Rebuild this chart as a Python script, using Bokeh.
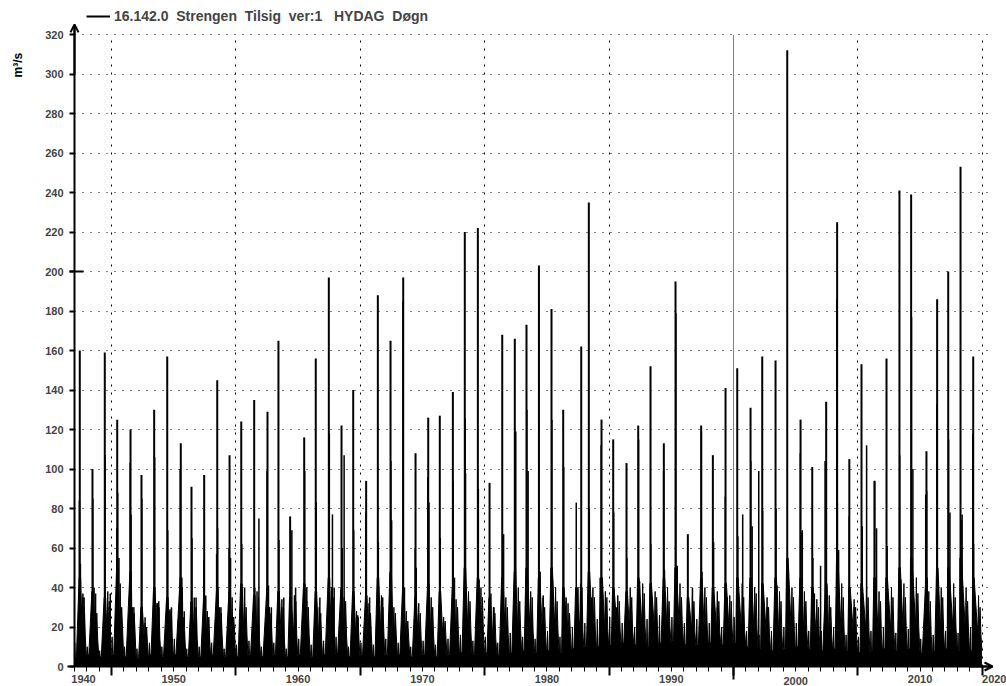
import math
from bokeh.plotting import figure
from bokeh.models import (Range1d, LinearAxis, FixedTicker, Grid, Arrow, OpenHead,
                          Label, Legend, LegendItem, ColumnDataSource)
from bokeh.embed import file_html
from bokeh.resources import INLINE

# ---------------- data ----------------
years = list(range(1942, 2015))

# date (decimal year) and value of the largest spike of each year, m3/s
peak_t = [1942.45, 1943.47, 1944.46, 1945.46, 1946.53, 1947.41, 1948.43, 1949.48, 1950.57, 1951.43,
          1952.45, 1953.50, 1954.49, 1955.43, 1956.47, 1957.54, 1958.42, 1959.36, 1960.49, 1961.42,
          1962.47, 1963.49, 1964.43, 1965.47, 1966.41, 1967.43, 1968.45, 1969.44, 1970.46, 1971.39,
          1972.44, 1973.40, 1974.45, 1975.39, 1976.41, 1977.42, 1978.36, 1979.36, 1980.37, 1981.31,
          1982.76, 1983.37, 1984.39, 1985.33, 1986.40, 1987.34, 1988.33, 1989.40, 1990.34, 1991.33,
          1992.40, 1993.34, 1994.36, 1995.30, 1996.37, 1997.31, 1998.38, 1999.32, 2000.39, 2001.33,
          2002.45, 2003.33, 2004.31, 2005.29, 2006.33, 2007.30, 2008.34, 2009.28, 2010.51, 2011.37,
          2012.26, 2013.25, 2014.27]
peak_q = [160, 100, 159, 125, 120, 97, 130, 157, 113, 91,
          97, 145, 107, 124, 135, 129, 165, 76, 116, 156,
          197, 122, 140, 94, 188, 165, 197, 108, 126, 127,
          139, 220, 222, 93, 168, 166, 173, 203, 181, 130,
          162, 235, 125, 115, 103, 122, 152, 113, 195, 67,
          122, 107, 141, 151, 131, 157, 155, 312, 125, 101,
          134, 225, 105, 153, 94, 156, 241, 239, 109, 186,
          200, 253, 157]

# other visible spikes
extra_t = [1942.42, 1942.50, 1942.70, 1942.80,
           1943.50, 1943.60, 1943.72,
           1944.49, 1944.70, 1944.90,
           1945.43, 1945.50, 1945.60,
           1946.50, 1946.57, 1946.80,
           1947.44, 1947.70,
           1948.47, 1948.65, 1948.80,
           1949.52, 1949.70, 1949.82,
           1950.52, 1950.65, 1950.85,
           1951.47, 1951.65, 1951.80,
           1952.42, 1952.58, 1952.80,
           1953.45, 1953.53, 1953.80,
           1954.45, 1954.57, 1954.80,
           1955.47, 1955.70,
           1956.52, 1956.85,
           1957.50, 1957.62, 1957.85,
           1958.46, 1958.70, 1958.85,
           1959.50, 1959.80,
           1960.53, 1960.70,
           1961.46, 1961.75,
           1962.51, 1962.76, 1962.90,
           1963.55, 1963.70,
           1964.47, 1964.80,
           1965.44, 1965.75,
           1966.45, 1966.80,
           1967.46, 1967.52,
           1968.43, 1968.55,
           1969.41, 1969.50,
           1970.43, 1970.52,
           1971.43, 1971.70,
           1972.47, 1972.57,
           1973.43, 1973.46,
           1974.49, 1974.55,
           1975.50, 1975.75,
           1976.44, 1976.52,
           1977.45, 1977.50,
           1978.39, 1978.49,
           1979.46, 1979.70,
           1980.40, 1980.45,
           1981.35, 1981.55,
           1982.36, 1982.50,
           1983.41, 1983.60,
           1984.28, 1984.36,
           1985.37, 1985.60,
           1986.43, 1986.70,
           1987.37, 1987.45,
           1988.35, 1988.45,
           1989.38, 1989.45,
           1990.37, 1990.48,
           1991.45, 1991.70,
           1992.42, 1992.47,
           1993.40, 1993.70,
           1994.34, 1994.50,
           1995.35, 1995.74,
           1996.39, 1996.50, 1997.03,
           1997.34, 1997.70,
           1998.42, 1998.50,
           1999.38, 1999.50,
           2000.37, 2000.42, 2000.53,
           2001.38, 2001.50,
           2002.00, 2002.36,
           2003.30, 2003.35, 2003.45,
           2004.30, 2004.70,
           2005.35, 2005.70,
           2006.35, 2006.50,
           2007.35, 2007.45,
           2008.36, 2008.45,
           2009.31, 2009.42,
           2010.45, 2010.53,
           2011.35, 2011.45,
           2012.29, 2012.40,
           2013.30, 2013.38,
           2014.23, 2014.30, 2014.40]
extra_q = [84, 52, 37, 35,
           85, 40, 37,
           107, 30, 37,
           70, 88, 55,
           103, 77, 30,
           85, 25,
           106, 32, 33,
           69, 29, 30,
           100, 45, 28,
           65, 35, 35,
           54, 36, 25,
           57, 70, 30,
           60, 55, 25,
           62, 40,
           40, 75,
           99, 41, 30,
           64, 30, 35,
           69, 40,
           99, 40,
           83, 35,
           118, 77, 40,
           60, 107,
           69, 26,
           78, 35,
           63, 35,
           104, 74,
           185, 40,
           60, 50,
           96, 83,
           65, 22,
           94, 45,
           126, 98,
           90, 44,
           37, 30,
           53, 67,
           82, 119,
           130, 99,
           48, 35,
           125, 44,
           101, 35,
           83, 40,
           80, 35,
           45, 112,
           78, 30,
           55, 30,
           115, 43,
           62, 35,
           99, 49,
           179, 51,
           28, 40,
           119, 48,
           63, 30,
           86, 35,
           66, 77,
           104, 71, 99,
           79, 30,
           80, 41,
           50, 26,
           108, 68, 69,
           55, 37,
           51, 104,
           186, 83, 59,
           76, 30,
           71, 112,
           94, 70,
           61, 33,
           107, 44,
           177, 100,
           87, 89,
           133, 41,
           115, 78,
           74, 77,
           118, 62, 30]

# dense daily flow mass per year (m3/s): winter low, January thaw, spring-flood base,
# late summer, August-September flush, autumn
winter_q = [5, 6, 5, 6, 5, 4, 6, 5, 6, 5,
            5, 6, 5, 5, 6, 5, 6, 5, 6, 5,
            6, 7, 5, 6, 5, 6, 6, 5, 6, 5,
            6, 7, 6, 7, 6, 7, 8, 7, 8, 7,
            9, 10, 10, 11, 12, 11, 10, 12, 13, 11,
            11, 12, 11, 12, 10, 9, 8, 9, 10, 9,
            8, 9, 8, 7, 8, 9, 8, 9, 7, 8,
            9, 8, 8]
early_q = [12, 10, 8, 15, 10, 9, 12, 10, 14, 9,
           10, 12, 9, 11, 13, 10, 12, 9, 14, 11,
           13, 15, 10, 12, 11, 14, 12, 10, 13, 11,
           14, 16, 13, 15, 12, 17, 15, 14, 18, 15,
           20, 22, 24, 25, 22, 20, 24, 26, 25, 22,
           24, 22, 20, 25, 18, 16, 18, 20, 22, 18,
           18, 20, 16, 15, 18, 20, 17, 19, 14, 16,
           18, 17, 20]
flood_q = [45, 38, 35, 50, 48, 30, 40, 35, 45, 33,
           35, 40, 38, 42, 36, 40, 38, 35, 42, 38,
           45, 40, 38, 36, 45, 48, 40, 35, 42, 38,
           40, 50, 45, 35, 45, 48, 50, 45, 50, 40,
           40, 48, 45, 40, 38, 45, 42, 45, 50, 35,
           45, 40, 42, 45, 45, 42, 45, 55, 45, 40,
           42, 55, 40, 42, 45, 45, 50, 55, 45, 50,
           50, 55, 45]
summer_q = [16, 14, 16, 19, 18, 12, 14, 14, 16, 14,
            14, 16, 18, 16, 14, 16, 14, 16, 16, 14,
            18, 16, 14, 16, 18, 16, 14, 14, 16, 14,
            16, 18, 18, 14, 16, 18, 18, 16, 18, 16,
            18, 19, 19, 18, 18, 20, 19, 20, 20, 18,
            19, 18, 19, 18, 19, 16, 16, 18, 18, 16,
            16, 18, 16, 18, 16, 18, 18, 20, 16, 18,
            19, 18, 16]
late_q = [35, 30, 38, 42, 30, 22, 32, 28, 40, 30,
          28, 30, 35, 32, 38, 30, 34, 36, 33, 30,
          40, 35, 28, 32, 36, 30, 28, 32, 35, 25,
          34, 38, 40, 30, 35, 40, 38, 36, 40, 32,
          42, 40, 38, 36, 40, 42, 38, 40, 42, 36,
          40, 38, 36, 42, 40, 35, 38, 40, 38, 34,
          36, 42, 34, 40, 38, 40, 42, 45, 38, 40,
          42, 40, 36]
autumn_q = [30, 27, 33, 30, 27, 20, 30, 27, 25, 30,
            25, 27, 25, 30, 35, 27, 30, 33, 30, 27,
            35, 33, 25, 27, 30, 27, 23, 27, 30, 23,
            30, 33, 35, 27, 30, 33, 35, 30, 33, 27,
            40, 35, 35, 33, 35, 37, 35, 33, 35, 33,
            35, 33, 33, 35, 37, 30, 33, 35, 33, 30,
            30, 35, 30, 35, 33, 35, 35, 37, 33, 35,
            35, 33, 30]
spring_flood_t = {1982: 1982.36}   # year whose largest spike was an autumn flood

y_ticks = list(range(0, 321, 20))
grid_years = [1945, 1955, 1965, 1975, 1985, 2005, 2015]
marked_year = 1995
label_pos = [1942.75, 1950, 1960, 1970, 1980, 1990, 2010, 2016.02]
label_txt = ["1940", "1950", "1960", "1970", "1980", "1990", "2010", "2020"]
legend_text = "16.142.0  Strengen  Tilsig  ver:1   HYDAG  Døgn"
unit_text = "m³/s"

# ---------------- base series from the readings ----------------
bt, bq = [], []
for i, y in enumerate(years):
    ft = spring_flood_t.get(y, peak_t[i])
    pts = [(y + 0.01, winter_q[i]), (y + 0.05, early_q[i]), (y + 0.09, winter_q[i]),
           (y + 0.18, winter_q[i]),
           (ft - 0.05, flood_q[i]), (ft + 0.07, flood_q[i]),
           (y + 0.64, summer_q[i]), (y + 0.70, late_q[i]), (y + 0.74, summer_q[i]),
           (y + 0.82, autumn_q[i]), (y + 0.89, summer_q[i]), (y + 0.97, winter_q[i])]
    pts.sort()
    for t, q in pts:
        bt.append(t)
        bq.append(q)

# ---------------- figure: the frame covers the whole canvas ----------------
PX_PER_YEAR = 12.44
PX_PER_UNIT = 1.975
W, H = 1006, 686
XR0 = 1945 - 111 / PX_PER_YEAR            # canvas left edge
XR1 = XR0 + W / PX_PER_YEAR               # canvas right edge
YR0 = -(H - 666) / PX_PER_UNIT            # canvas bottom edge
YR1 = YR0 + H / PX_PER_UNIT               # canvas top edge
AX_X = 1942.026                           # where the y axis stands
FONT = "Liberation Sans"

p = figure(width=W, height=H, x_range=Range1d(XR0, XR1), y_range=Range1d(YR0, YR1),
           output_backend="svg", toolbar_location=None, x_axis_location=None,
           y_axis_location=None, title=None,
           min_border_left=0, min_border_right=0, min_border_top=0, min_border_bottom=0)
p.outline_line_color = None
p.background_fill_color = "white"
p.border_fill_color = "white"
for g0 in list(p.xgrid) + list(p.ygrid):
    g0.visible = False

# grids
yg = Grid(dimension=1, ticker=FixedTicker(ticks=y_ticks[1:]), grid_line_color="black",
          grid_line_dash="1 7", grid_line_width=1)
xg = Grid(dimension=0, ticker=FixedTicker(ticks=grid_years), grid_line_color="black",
          grid_line_dash="2 6", grid_line_width=1)
xg2 = Grid(dimension=0, ticker=FixedTicker(ticks=[marked_year]), grid_line_color="black",
           grid_line_dash="1 1", grid_line_width=1)
for g, cb in ((yg, (AX_X, 2015.4)), (xg, (0, 320)), (xg2, (0, 320))):
    try:
        g.cross_bounds = cb
    except Exception:
        pass
    p.add_layout(g)

# y axis
yax = LinearAxis(fixed_location=AX_X, ticker=FixedTicker(ticks=y_ticks),
                 major_tick_out=5, major_tick_in=0, major_tick_line_width=2,
                 minor_tick_line_color=None, axis_line_width=2, bounds=(0, 324),
                 major_label_text_font=FONT, major_label_text_font_style="bold",
                 major_label_text_font_size="11px", major_label_standoff=6)
p.add_layout(yax, "left")
ax200 = LinearAxis(fixed_location=AX_X, ticker=FixedTicker(ticks=[200]),
                   major_tick_in=9, major_tick_out=5, major_tick_line_width=2,
                   axis_line_color=None, minor_tick_line_color=None,
                   major_label_text_color=None)
p.add_layout(ax200, "left")

# x axes at y = 0
axB = LinearAxis(fixed_location=0,
                 ticker=FixedTicker(ticks=grid_years + [marked_year], minor_ticks=list(range(1942, 2016))),
                 major_tick_out=9, major_tick_in=0, minor_tick_out=5, minor_tick_in=0,
                 major_tick_line_width=2, minor_tick_line_width=1,
                 axis_line_width=2, bounds=(1941.5, 2015.8),
                 major_label_text_color=None)
p.add_layout(axB, "below")
axT = LinearAxis(fixed_location=0, ticker=FixedTicker(ticks=[marked_year]),
                 major_tick_out=13, major_tick_in=0, major_tick_line_width=2,
                 axis_line_color=None, minor_tick_line_color=None, major_label_text_color=None)
p.add_layout(axT, "below")
axA = LinearAxis(fixed_location=0, ticker=FixedTicker(ticks=label_pos),
                 major_label_overrides={k: v for k, v in zip(label_pos, label_txt)},
                 major_tick_out=0, major_tick_in=0, major_tick_line_color=None,
                 minor_tick_line_color=None, axis_line_color=None,
                 major_label_standoff=8, major_label_text_font=FONT,
                 major_label_text_font_style="bold", major_label_text_font_size="11px")
p.add_layout(axA, "below")
axC = LinearAxis(fixed_location=0, ticker=FixedTicker(ticks=[2000]),
                 major_label_overrides={2000: "2000"},
                 major_tick_out=0, major_tick_in=0, major_tick_line_color=None,
                 minor_tick_line_color=None, axis_line_color=None,
                 major_label_standoff=10, major_label_text_font=FONT,
                 major_label_text_font_style="bold", major_label_text_font_size="11px")
p.add_layout(axC, "below")

# data
p.varea(x=bt, y1=0, y2=bq, fill_color="black", fill_alpha=1)
p.line(x=bt, y=bq, line_color="black", line_width=1)
src_x = ColumnDataSource(dict(t=extra_t, q=extra_q))
p.segment(x0="t", y0=0, x1="t", y1="q", source=src_x, line_color="black", line_width=1.5)
src_p = ColumnDataSource(dict(t=peak_t, q=peak_q))
r_peaks = p.segment(x0="t", y0=0, x1="t", y1="q", source=src_p, line_color="black", line_width=2)

# axis arrows
p.add_layout(Arrow(end=OpenHead(size=8, line_width=2, line_color="black"),
                   x_start=AX_X, y_start=300, x_end=AX_X, y_end=325.1,
                   line_width=2, line_color="black"))
p.add_layout(Arrow(end=OpenHead(size=8, line_width=2, line_color="black"),
                   x_start=2014.0, y_start=0, x_end=2015.82, y_end=0,
                   line_width=2, line_color="black"))

# legend (top-left, outside the value area)
leg = Legend(items=[LegendItem(label=legend_text, renderers=[r_peaks])],
             location=(86, H - 24), orientation="horizontal",
             glyph_width=24, glyph_height=12, label_height=12, label_standoff=4,
             padding=0, margin=0, spacing=0,
             border_line_color=None, background_fill_alpha=0,
             label_text_font=FONT, label_text_font_style="bold",
             label_text_font_size="14px")
p.add_layout(leg)

# unit label
p.add_layout(Label(x=1945 - (111 - 17) / PX_PER_YEAR, y=(666 - 77) / PX_PER_UNIT,
                   text=unit_text, angle=math.pi / 2,
                   text_font=FONT, text_font_style="bold", text_font_size="12px",
                   text_baseline="middle", text_align="left", text_color="black"))

html = file_html(p, INLINE, title="16.142.0 Strengen Tilsig")
html = html.replace("<head>", "<head><style>html,body{margin:0;padding:0;overflow:hidden;}</style>", 1)
open("out.html", "w").write(html)
